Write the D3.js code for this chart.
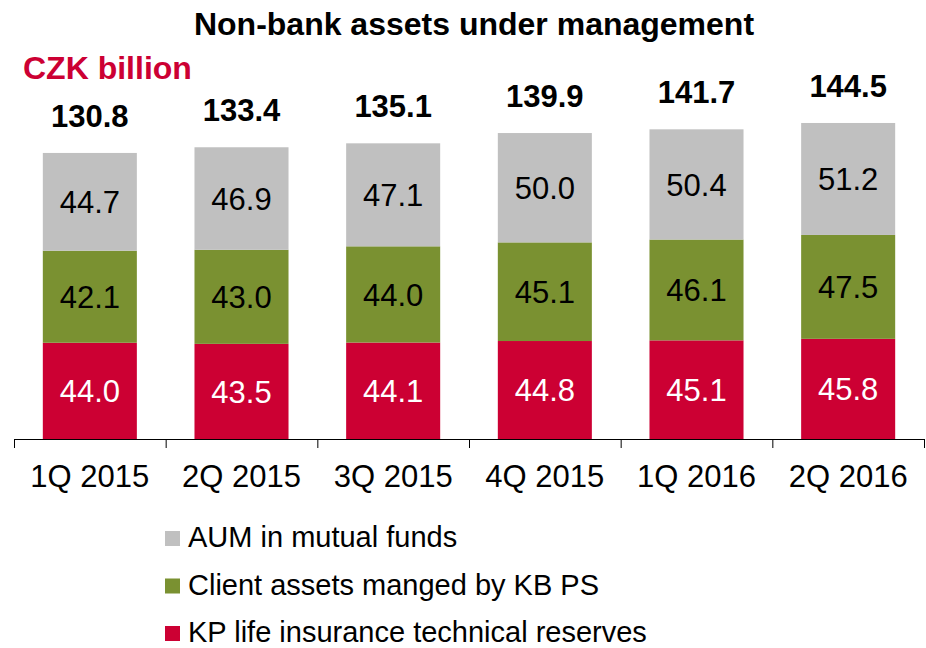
<!DOCTYPE html>
<html>
<head>
<meta charset="utf-8">
<script src="https://cdn.jsdelivr.net/npm/d3@7"></script>
<style>
  body { margin: 0; background: #fff; }
  text { font-family: "Liberation Sans", Arial, sans-serif; }
</style>
</head>
<body>
<svg id="chart"></svg>
<script>
var categories = ["1Q 2015", "2Q 2015", "3Q 2015", "4Q 2015", "1Q 2016", "2Q 2016"];
var insurance = [44.0, 43.5, 44.1, 44.8, 45.1, 45.8];
var pension = [42.1, 43.0, 44.0, 45.1, 46.1, 47.5];
var funds = [44.7, 46.9, 47.1, 50.0, 50.4, 51.2];
var totals = [130.8, 133.4, 135.1, 139.9, 141.7, 144.5];

var seriesNames = ["KP life insurance technical reserves", "Client assets manged by KB PS", "AUM in mutual funds"];
var colors = ["#CC0033", "#7A9131", "#C0C0C0"];

var width = 926, height = 648;
var baseY = 439;

var svg = d3.select("#chart")
  .attr("width", width)
  .attr("height", height);

// rows for the stack
var rows = categories.map((c, i) => ({
  cat: c,
  s0: insurance[i],
  s1: pension[i],
  s2: funds[i],
  total: totals[i]
}));

var stacked = d3.stack().keys(["s0", "s1", "s2"])(rows);

var x = d3.scaleBand()
  .domain(categories)
  .range([14, 924])
  .paddingInner(0.38)
  .paddingOuter(0.19);

var y = d3.scaleLinear()
  .domain([0, 150])
  .range([baseY, baseY - 150 * 2.187]);

// title
svg.append("text")
  .attr("x", 474)
  .attr("y", 35)
  .attr("text-anchor", "middle")
  .style("font-size", "32px")
  .style("font-weight", "bold")
  .text("Non-bank assets under management");

svg.append("text")
  .attr("x", 23)
  .attr("y", 79)
  .style("font-size", "32px")
  .style("font-weight", "bold")
  .style("fill", "#CC0033")
  .text("CZK billion");

// bars
var layers = svg.selectAll(".layer")
  .data(stacked)
  .enter()
  .append("g")
  .attr("class", "layer")
  .attr("fill", (d, i) => colors[i]);

layers.selectAll("rect")
  .data(d => d)
  .enter()
  .append("rect")
  .attr("x", d => x(d.data.cat))
  .attr("width", x.bandwidth())
  .attr("y", d => y(d[1]))
  .attr("height", d => y(d[0]) - y(d[1]));

// segment labels
stacked.forEach((layer, li) => {
  svg.append("g")
    .selectAll("text")
    .data(layer)
    .enter()
    .append("text")
    .attr("x", d => x(d.data.cat) + x.bandwidth() / 2)
    .attr("y", d => (y(d[0]) + y(d[1])) / 2)
    .attr("dy", "0.36em")
    .attr("text-anchor", "middle")
    .style("font-size", "31px")
    .style("fill", li == 0 ? "#fff" : "#000")
    .text(d => d3.format(".1f")(d[1] - d[0]));
});

// totals
svg.append("g")
  .selectAll("text")
  .data(rows)
  .enter()
  .append("text")
  .attr("x", d => x(d.cat) + x.bandwidth() / 2)
  .attr("y", (d, i) => y(stacked[2][i][1]) - 26)
  .attr("text-anchor", "middle")
  .style("font-size", "31px")
  .style("font-weight", "bold")
  .text(d => d3.format(".1f")(d.total));

// axis: boundary ticks
var edges = d3.scaleLinear().domain([0, categories.length]).range([14, 924]);
svg.append("g")
  .attr("transform", "translate(0," + baseY + ")")
  .call(d3.axisBottom(edges).ticks(categories.length).tickSize(9).tickSizeOuter(9).tickFormat(""))
  .call(g => g.selectAll("path, line").attr("stroke", "#000").attr("stroke-width", 1));

// axis: category labels
svg.append("g")
  .attr("transform", "translate(0," + baseY + ")")
  .call(d3.axisBottom(x).tickSize(0).tickPadding(26))
  .call(g => g.select(".domain").remove())
  .call(g => g.selectAll("text")
    .style("font-size", "31px")
    .style("font-family", "'Liberation Sans', Arial, sans-serif")
    .attr("fill", "#000"));

// legend
var legend = svg.append("g")
  .selectAll("g")
  .data([2, 1, 0])
  .enter()
  .append("g")
  .attr("transform", (d, i) => "translate(165," + (547 + i * 47.5) + ")");

legend.append("rect")
  .attr("x", 0)
  .attr("y", -16)
  .attr("width", 15)
  .attr("height", 15)
  .attr("fill", d => colors[d]);

legend.append("text")
  .attr("x", 23)
  .attr("y", 0)
  .style("font-size", "29px")
  .text(d => seriesNames[d]);
</script>
</body>
</html>
